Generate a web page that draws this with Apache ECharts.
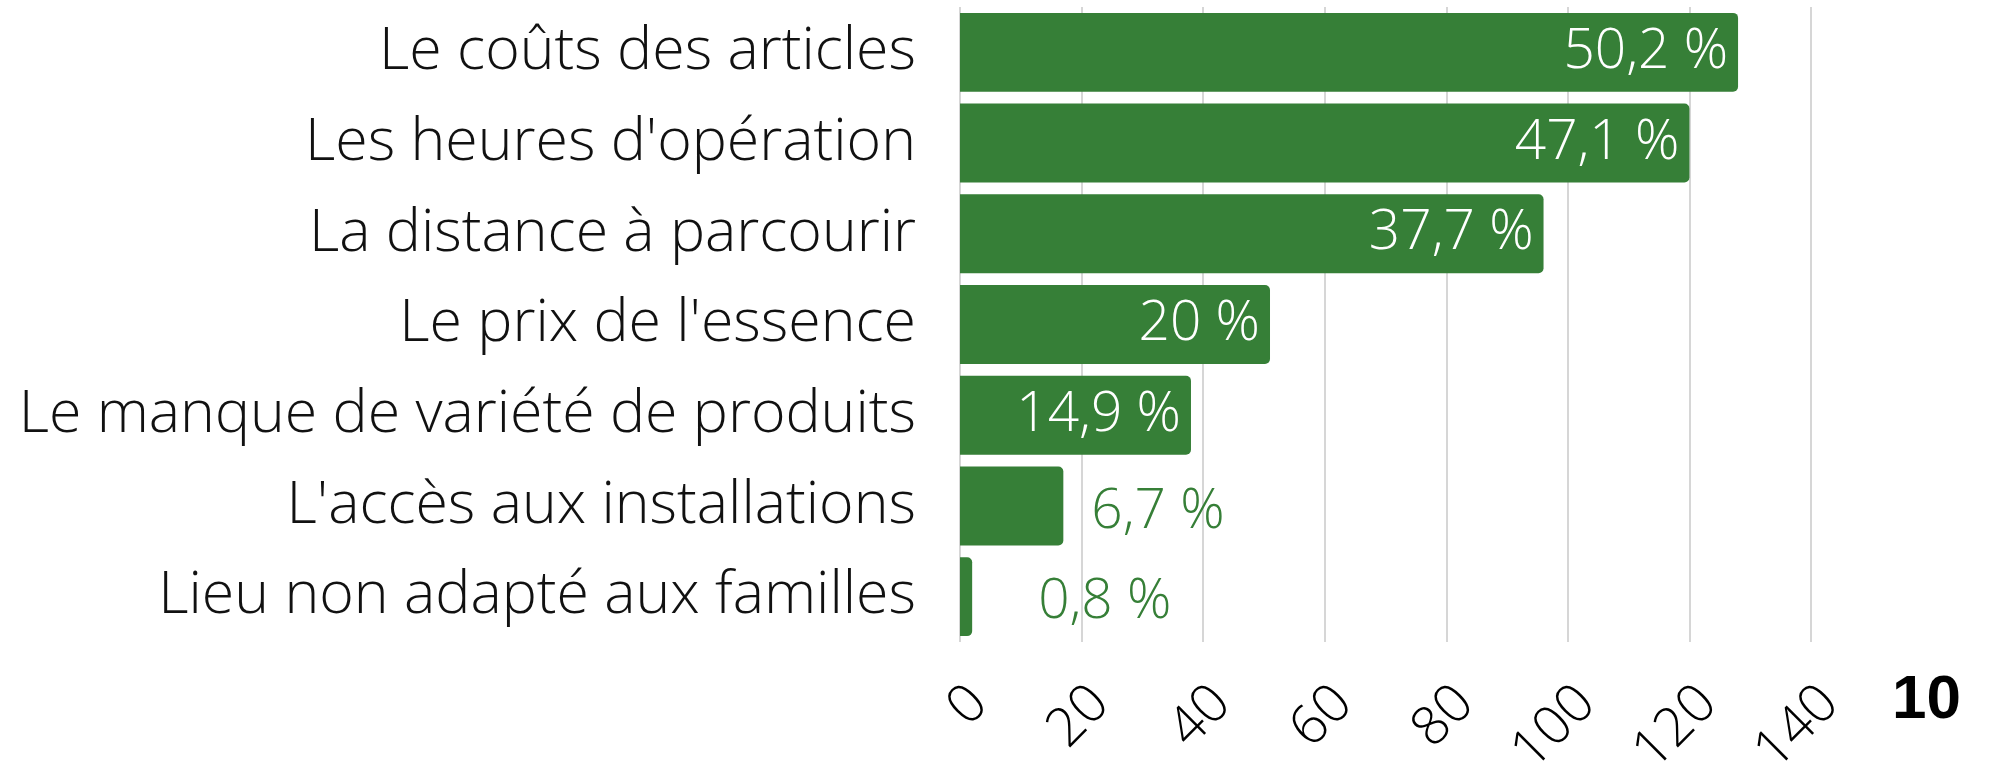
<!DOCTYPE html>
<html>
<head>
<meta charset="utf-8">
<script src="https://cdn.jsdelivr.net/npm/echarts@6/dist/echarts.min.js"></script>
<style>
  html, body { margin: 0; padding: 0; background: #fff; }
  #main { width: 1994px; height: 761px; }
</style>
</head>
<body>
<div id="main"></div>
<script>
var categories = [
  'Le coûts des articles',
  "Les heures d'opération",
  'La distance à parcourir',
  "Le prix de l'essence",
  'Le manque de variété de produits',
  "L'accès aux installations",
  'Lieu non adapté aux familles'
];
var counts = [128, 120, 96, 51, 38, 17, 2];
var percents = [50.2, 47.1, 37.7, 20, 14.9, 6.7, 0.8];
var xTicks = [0, 20, 40, 60, 80, 100, 120, 140];

var green = '#367f37';
var chart = echarts.init(document.getElementById('main'));

function fmt(p) {
  return String(p).replace('.', ',') + ' %';
}

// the two short bars get their label outside, in green
var barData = counts.map(function (v, i) {
  var item = { value: v };
  if (i === 5) {
    item.label = { position: 'right', color: green, distance: 28, offset: [0, 6] };
  } else if (i === 6) {
    item.label = { position: 'right', color: green, distance: 66, offset: [0, 6] };
  }
  return item;
});

var option = {
  animation: false,
  backgroundColor: '#fff',
  grid: { left: 960, right: 183, top: 7, bottom: 119, containLabel: false, outerBoundsMode: 'none' },
  xAxis: {
    type: 'value',
    min: 0,
    max: 140,
    interval: 20,
    axisLine: { show: false },
    axisTick: { show: false },
    splitLine: { lineStyle: { color: '#c8c8c8', width: 1.5 } },
    axisLabel: {
      rotate: 45,
      margin: 34,
      align: 'right',
      verticalAlign: 'top',
      fontFamily: 'Open Sans',
      fontWeight: 300,
      fontSize: 54,
      color: '#000',
      formatter: function (v) { return xTicks.indexOf(v) >= 0 ? String(v) : ''; }
    }
  },
  yAxis: {
    type: 'category',
    data: categories,
    inverse: true,
    axisLine: { show: false },
    axisTick: { show: false },
    axisLabel: {
      margin: 44,
      fontFamily: 'Open Sans',
      fontWeight: 300,
      fontSize: 59,
      color: '#111'
    }
  },
  series: [{
    type: 'bar',
    data: barData,
    barCategoryGap: '13%',
    itemStyle: { color: green, borderRadius: [0, 5, 5, 0] },
    label: {
      show: true,
      position: 'insideRight',
      distance: 10,
      color: '#fff',
      fontFamily: 'Open Sans',
      fontWeight: 300,
      fontSize: 55,
      formatter: function (p) { return fmt(percents[p.dataIndex]); }
    }
  }],
  graphic: [{
    type: 'text',
    left: 1892,
    top: 670,
    style: {
      text: '10',
      font: 'bold 62px "Liberation Sans"',
      fill: '#000'
    }
  }]
};

chart.setOption(option);
</script>
</body>
</html>
